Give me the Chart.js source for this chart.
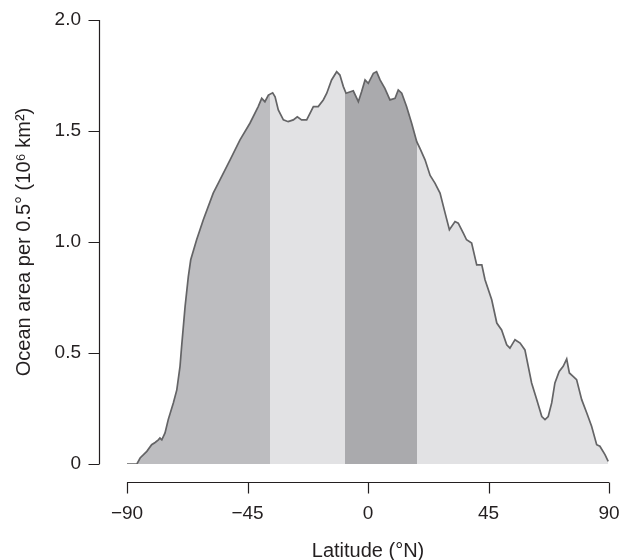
<!DOCTYPE html>
<html>
<head>
<meta charset="utf-8">
<script src="https://cdn.jsdelivr.net/npm/chart.js@4.4.1/dist/chart.umd.min.js"></script>
<style>
  html, body { margin: 0; padding: 0; background: #ffffff; }
  #wrap { width: 620px; height: 560px; }
</style>
</head>
<body>
<div id="wrap"><canvas id="c" width="620" height="560"></canvas></div>
<script>
// ---- data ----
const latitudes = [
  -90, -86.3, -85.1, -82.6, -80.8, -79.5, -78.3, -77.7, -77.0, -75.8,
  -74.6, -72.7, -71.4, -70.2, -69.6, -68.3, -67.1, -66.2, -64.0, -61.5,
  -57.8, -55.9, -51.5, -47.8, -44.1, -41.0, -39.7, -38.5, -37.2, -35.6,
  -34.7, -33.5, -31.6, -29.8, -27.9, -26.4, -24.8, -22.9, -20.4, -18.6,
  -16.7, -15.4, -13.6, -11.7, -10.5, -9.2, -8.2, -5.5, -3.6, -2.4,
  -1.1, 0.1, 2.0, 3.2, 4.5, 6.3, 8.2, 10.1, 11.3, 12.6,
  14.4, 16.3, 18.2, 19.4, 21.3, 23.2, 25.0, 26.9, 28.8, 30.4,
  32.5, 33.7, 35.6, 36.8, 38.7, 40.6, 42.5, 43.7, 46.2, 48.1,
  49.9, 51.8, 53.0, 54.9, 56.8, 58.6, 61.1, 63.0, 64.9, 66.1,
  67.3, 68.6, 69.8, 71.4, 72.9, 74.2, 75.2, 76.7, 77.9, 79.8,
  81.7, 83.5, 85.4, 86.6, 88.5, 89.7
];
const oceanArea = [
  0.0, 0.0, 0.027, 0.057, 0.087, 0.097, 0.109, 0.117, 0.109, 0.14,
  0.20, 0.275, 0.334, 0.44, 0.53, 0.71, 0.844, 0.92, 1.01, 1.10,
  1.22, 1.265, 1.37, 1.46, 1.535, 1.61, 1.647, 1.632, 1.662, 1.672,
  1.654, 1.595, 1.55, 1.542, 1.55, 1.564, 1.55, 1.55, 1.61, 1.61,
  1.64, 1.67, 1.73, 1.767, 1.752, 1.70, 1.67, 1.681, 1.632, 1.677,
  1.73, 1.715, 1.76, 1.767, 1.73, 1.692, 1.64, 1.647, 1.685, 1.67,
  1.61, 1.535, 1.452, 1.422, 1.37, 1.30, 1.265, 1.22, 1.13, 1.055,
  1.092, 1.085, 1.04, 1.01, 0.995, 0.897, 0.897, 0.83, 0.74, 0.635,
  0.604, 0.537, 0.522, 0.56, 0.545, 0.514, 0.365, 0.29, 0.214, 0.20,
  0.214, 0.275, 0.365, 0.417, 0.44, 0.473, 0.41, 0.394, 0.38, 0.29,
  0.23, 0.17, 0.087, 0.08, 0.042, 0.012
];
const bandEdges = [-90, -36.7, -8.6, 18.3, 90];
const bandColors = ['#bdbdc0', '#e2e2e4', '#aaaaad', '#e2e2e4'];
const xTickValues = [-90, -45, 0, 45, 90];
const xTickLabels = ['\u221290', '\u221245', '0', '45', '90'];
const yTickValues = [0, 0.5, 1.0, 1.5, 2.0];
const yTickLabels = ['0', '0.5', '1.0', '1.5', '2.0'];

const points = latitudes.map((lat, i) => ({ x: lat, y: oceanArea[i] }));

const FONT = "'Liberation Sans', Arial, Helvetica, sans-serif";
const AXIS_COLOR = '#231f20';
const Y_AXIS_OFFSET = 28;   // detached R-style axis
const X_AXIS_OFFSET = 18;
const TICK_LEN = 11;

function bandFill(context) {
  const chart = context.chart;
  const area = chart.chartArea;
  const xs = chart.scales.x;
  if (!area || !xs) return bandColors[0];
  const left = xs.left, right = xs.right, w = right - left;
  const g = chart.ctx.createLinearGradient(left, 0, right, 0);
  for (let i = 0; i < bandColors.length; i++) {
    const a = Math.min(1, Math.max(0, (xs.getPixelForValue(bandEdges[i]) - left) / w));
    const b = Math.min(1, Math.max(0, (xs.getPixelForValue(bandEdges[i + 1]) - left) / w));
    g.addColorStop(a, bandColors[i]);
    g.addColorStop(b, bandColors[i]);
  }
  return g;
}

const detachedAxes = {
  id: 'detachedAxes',
  afterDraw(chart) {
    const { ctx } = chart;
    const xs = chart.scales.x, ys = chart.scales.y;
    ctx.save();
    ctx.strokeStyle = AXIS_COLOR;
    ctx.lineWidth = 1.2;
    // y axis
    const ax = Math.round(chart.chartArea.left - Y_AXIS_OFFSET) + 0.5;
    ctx.beginPath();
    ctx.moveTo(ax, ys.getPixelForValue(yTickValues[0]));
    ctx.lineTo(ax, ys.getPixelForValue(yTickValues[yTickValues.length - 1]));
    yTickValues.forEach(v => {
      const py = Math.round(ys.getPixelForValue(v)) + 0.5;
      ctx.moveTo(ax - TICK_LEN, py);
      ctx.lineTo(ax, py);
    });
    ctx.stroke();
    // x axis
    const ay = Math.round(ys.getPixelForValue(0) + X_AXIS_OFFSET) + 0.5;
    ctx.beginPath();
    ctx.moveTo(xs.getPixelForValue(xTickValues[0]), ay);
    ctx.lineTo(xs.getPixelForValue(xTickValues[xTickValues.length - 1]), ay);
    xTickValues.forEach(v => {
      const px = Math.round(xs.getPixelForValue(v)) + 0.5;
      ctx.moveTo(px, ay);
      ctx.lineTo(px, ay + TICK_LEN);
    });
    ctx.stroke();
    ctx.restore();
  }
};

new Chart(document.getElementById('c'), {
  type: 'line',
  data: {
    datasets: [{
      data: points,
      fill: 'origin',
      backgroundColor: bandFill,
      borderColor: '#646466',
      borderWidth: 1.7,
      pointRadius: 0,
      tension: 0
    }]
  },
  options: {
    responsive: false,
    animation: false,
    layout: { padding: { top: 20, right: 11, bottom: 0, left: 0 } },
    plugins: { legend: { display: false }, tooltip: { enabled: false } },
    scales: {
      x: {
        type: 'linear',
        min: -90, max: 90,
        afterBuildTicks: s => { s.ticks = xTickValues.map(v => ({ value: v })); },
        afterFit: s => { s.height = 96; s.paddingLeft = 0; s.paddingRight = 0; },
        grid: { display: false, drawTicks: false },
        border: { display: false },
        ticks: {
          padding: 38,
          color: '#231f20',
          font: { family: FONT, size: 19 },
          maxRotation: 0,
          callback: v => xTickLabels[xTickValues.indexOf(v)]
        },
        title: {
          display: true,
          text: 'Latitude (\u00b0N)',
          color: '#231f20',
          font: { family: FONT, size: 20 },
          padding: { top: 0, bottom: -3 }
        }
      },
      y: {
        type: 'linear',
        min: 0, max: 2,
        afterBuildTicks: s => { s.ticks = yTickValues.map(v => ({ value: v })); },
        afterFit: s => { s.width = 127; s.paddingTop = 0; s.paddingBottom = 0; },
        grid: { display: false, drawTicks: false },
        border: { display: false },
        ticks: {
          padding: 46,
          color: '#231f20',
          font: { family: FONT, size: 19 },
          callback: v => yTickLabels[yTickValues.indexOf(v)]
        },
        title: {
          display: true,
          text: 'Ocean area per 0.5\u00b0 (10\u2076 km\u00b2)',
          color: '#231f20',
          font: { family: FONT, size: 20 },
          padding: { top: 12, bottom: 0 }
        }
      }
    }
  },
  plugins: [detachedAxes]
});
</script>
</body>
</html>
